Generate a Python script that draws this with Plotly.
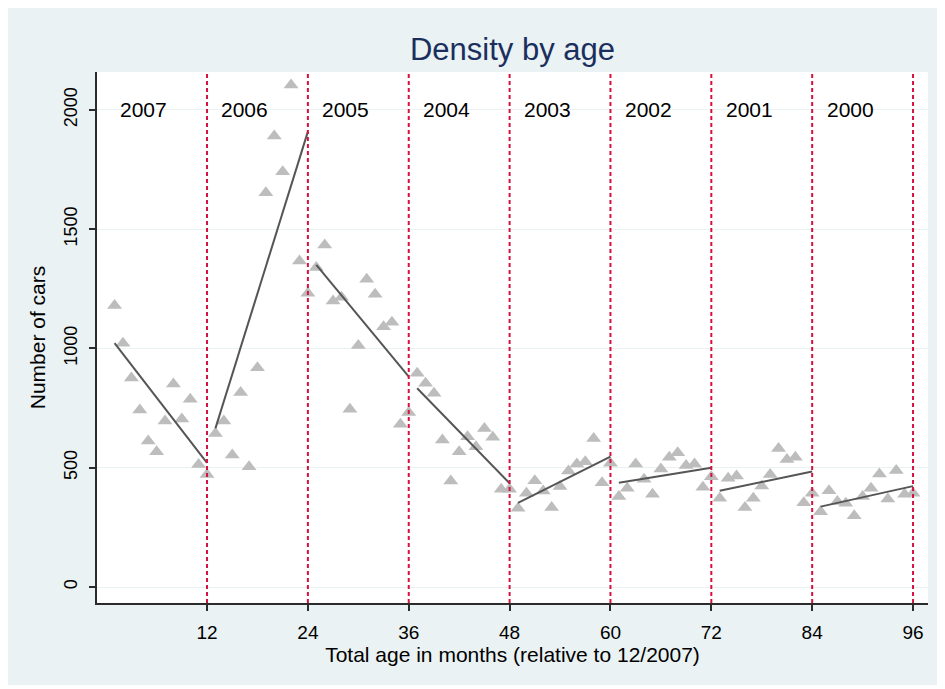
import plotly.graph_objects as go

# ---------------- data ----------------
years = ["2007", "2006", "2005", "2004", "2003", "2002", "2001", "2000"]
boundaries = [12, 24, 36, 48, 60, 72, 84, 96]
months = list(range(1, 97))

cars_2007 = [1180, 1022, 876, 742, 612, 567, 696, 851, 704, 787, 514, 472]
cars_2006 = [644, 696, 553, 815, 504, 919, 1653, 1891, 1741, 2105, 1367, 1231]
cars_2005 = [1339, 1434, 1199, 1215, 745, 1012, 1290, 1227, 1091, 1110, 682, 732]
cars_2004 = [896, 854, 812, 616, 444, 567, 630, 588, 665, 628, 410, 410]
cars_2003 = [330, 393, 446, 403, 333, 421, 486, 516, 525, 623, 437, 519]
cars_2002 = [379, 414, 516, 452, 389, 495, 544, 563, 509, 516, 418, 462]
cars_2001 = [372, 456, 465, 333, 372, 423, 472, 581, 535, 544, 353, 393]
cars_2000 = [316, 404, 358, 351, 299, 379, 414, 474, 369, 488, 389, 393]

# linear-fit line values at the first and last month of each year block
fit_start = [1022, 665, 1350, 833, 353, 437, 404, 337]
fit_end = [520, 1909, 882, 435, 547, 500, 484, 423]

x_ticks = [12, 24, 36, 48, 60, 72, 84, 96]
y_ticks = [0, 500, 1000, 1500, 2000]

cars = (cars_2007 + cars_2006 + cars_2005 + cars_2004 +
        cars_2003 + cars_2002 + cars_2001 + cars_2000)

# ---------------- figure ----------------
FONT = "Liberation Sans, Arial, Helvetica, sans-serif"
BG = "#EAF2F3"
AXIS = "#2b2b2b"

fig = go.Figure()

fig.add_trace(go.Scatter(
    x=months, y=cars, mode="markers",
    marker=dict(symbol="triangle-up", size=13, color="#BDBDBD", line=dict(width=0)),
    showlegend=False, hoverinfo="x+y",
))

for i, b in enumerate(boundaries):
    fig.add_trace(go.Scatter(
        x=[b - 11, b], y=[fit_start[i], fit_end[i]], mode="lines",
        line=dict(color="#555555", width=2), showlegend=False,
    ))

# background shapes (outer bluish panel, white plot region)
fig.add_shape(type="rect", xref="paper", yref="paper",
              x0=-0.1131, x1=1.04, y0=-0.1544, y1=1.13,
              fillcolor=BG, line=dict(width=0), layer="below")
fig.add_shape(type="rect", xref="paper", yref="paper",
              x0=0, x1=1, y0=0, y1=1,
              fillcolor="white", line=dict(width=0), layer="below")

for b in boundaries:
    fig.add_vline(x=b, line=dict(color="#D3123F", width=2, dash="4px,3px"))

for i, yr in enumerate(years):
    fig.add_annotation(x=boundaries[i] - 7.5, y=2000, text=yr, showarrow=False,
                       xanchor="center", yanchor="middle",
                       font=dict(family=FONT, size=21, color="black"))

fig.update_layout(
    width=945, height=689,
    margin=dict(l=89, r=25, t=64, b=94, autoexpand=False),
    paper_bgcolor="white", plot_bgcolor="white",
    font=dict(family=FONT, color="black"),
    title=dict(text="Density by age", x=0.5, xref="paper", xanchor="center",
               y=1 - 41 / 689, yref="container", yanchor="middle",
               font=dict(family=FONT, size=31, color="#1B2F5E")),
    showlegend=False,
)

fig.update_xaxes(
    range=[-1.09, 97.78], tickvals=x_ticks, ticktext=[str(t) for t in x_ticks],
    ticks="outside", ticklen=6, tickwidth=1.5, tickcolor=AXIS,
    showline=True, linecolor=AXIS, linewidth=1.5, mirror=False,
    showgrid=False, zeroline=False, ticklabelstandoff=5,
    tickfont=dict(family=FONT, size=19, color="black"),
    title=dict(text="Total age in months (relative to 12/2007)",
               font=dict(family=FONT, size=21, color="black"), standoff=5),
)
fig.update_yaxes(
    range=[-67, 2159], tickvals=y_ticks, ticktext=[str(t) for t in y_ticks],
    tickangle=-90, ticklabelstandoff=5,
    ticks="outside", ticklen=6, tickwidth=1.5, tickcolor=AXIS,
    showline=True, linecolor=AXIS, linewidth=1.5, mirror=False,
    showgrid=True, gridcolor=BG, gridwidth=1.2, zeroline=False,
    tickfont=dict(family=FONT, size=18, color="black"),
    title=dict(text="Number of cars",
               font=dict(family=FONT, size=21, color="black"), standoff=10),
)

fig.write_html("out.html")
